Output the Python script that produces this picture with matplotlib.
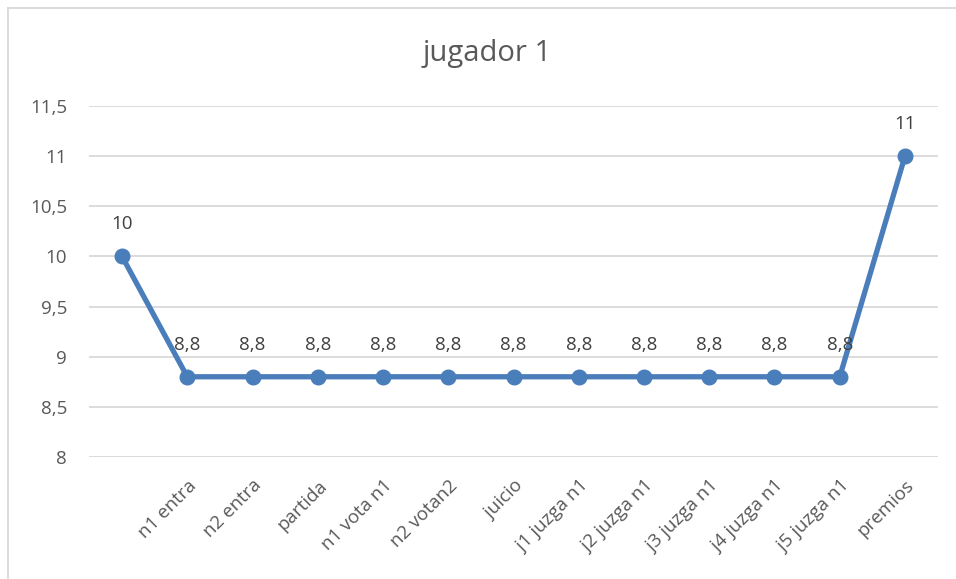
import matplotlib.pyplot as plt
from matplotlib.lines import Line2D

plt.rcParams['font.family'] = ['Open Sans', 'DejaVu Sans']

categorias = ['', 'n1 entra', 'n2 entra', 'partida', 'n1 vota n1', 'n2 votan2',
              'juicio', 'j1 juzga n1', 'j2 juzga n1', 'j3 juzga n1',
              'j4 juzga n1', 'j5 juzga n1', 'premios']
valores = [10, 8.8, 8.8, 8.8, 8.8, 8.8, 8.8, 8.8, 8.8, 8.8, 8.8, 8.8, 11]
yticks = [8, 8.5, 9, 9.5, 10, 10.5, 11, 11.5]

W, H = 956, 579
fig = plt.figure(figsize=(W / 100, H / 100), dpi=100)
ax = fig.add_axes([89.4 / W, 1 - 457 / H, (937.6 - 89.4) / W, (457 - 106) / H])

x = list(range(len(valores)))
ax.plot(x, valores, color='#4a7ebb', lw=3.8, marker='o', ms=10.5,
        solid_joinstyle='round', zorder=3)

for xi, v in zip(x, valores):
    etiqueta = f'{v:g}'.replace('.', ',')
    ax.annotate(etiqueta, (xi, v), xytext=(0, 23), textcoords='offset points',
                ha='center', va='center', fontsize=13.5, color='#404040', zorder=4)

ax.set_xlim(-0.5, len(valores) - 0.5)
ax.set_ylim(8, 11.5)
ax.set_yticks(yticks)
ax.set_yticklabels([f'{t:g}'.replace('.', ',') for t in yticks])
ax.set_xticks(x)
ax.set_xticklabels(categorias, rotation=45, ha='right', va='top',
                   rotation_mode='anchor')
ax.tick_params(axis='both', length=0, labelsize=13.5, labelcolor='#595959')
ax.tick_params(axis='y', pad=16)
ax.tick_params(axis='x', pad=14)
ax.grid(axis='y', color='#d9d9d9', lw=1.3)
ax.set_axisbelow(True)
for s in ax.spines.values():
    s.set_visible(False)

fig.text(0.51, 1 - 53 / H, 'jugador 1', ha='center', va='center',
         fontsize=21, color='#595959')

# borde del grafico
fig.add_artist(Line2D([7.5 / W, 7.5 / W], [0, 1 - 7.5 / H], color='#d9d9d9', lw=1.3))
fig.add_artist(Line2D([7.5 / W, 1], [1 - 7.5 / H, 1 - 7.5 / H], color='#d9d9d9', lw=1.3))

fig.savefig('out.png', dpi=100)
